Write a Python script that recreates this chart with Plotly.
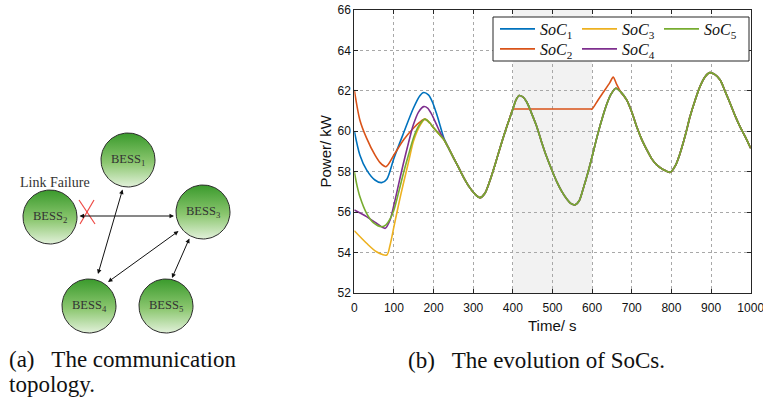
import numpy as np
import plotly.graph_objects as go

# ---------------- data ----------------
common_t = [178, 190, 200, 212, 225, 237, 250, 262, 275, 290, 305, 317, 330, 342, 355, 368, 380, 392, 400, 408,
            416, 425, 435, 447, 460, 472, 485, 498, 511, 524, 536, 547, 557, 567, 578, 590, 600, 612, 624, 637,
            648, 660, 672, 687, 700, 712, 725, 738, 750, 763, 780, 797, 810, 822, 835, 847, 860, 872, 885, 897,
            910, 923, 935, 948, 960, 973, 987, 1000]
common_v = [60.60, 60.42, 60.17, 59.90, 59.62, 59.20, 58.70, 58.25, 57.75, 57.25, 56.88, 56.72, 56.95, 57.55, 58.35,
            59.20, 59.95, 60.65, 61.10, 61.55, 61.77, 61.70, 61.45, 60.90, 60.25, 59.50, 58.75, 58.10, 57.50, 57.00,
            56.65, 56.42, 56.36, 56.55, 57.20, 58.00, 58.75, 59.70, 60.55, 61.35, 61.85, 62.13, 61.95, 61.55, 60.95,
            60.25, 59.60, 59.08, 58.65, 58.34, 58.10, 57.97, 58.30, 58.92, 59.80, 60.73, 61.55, 62.21, 62.70, 62.90,
            62.80, 62.54, 62.00, 61.39, 60.80, 60.23, 59.70, 59.16]

soc1_t = [0, 14, 31, 52, 69, 82, 100, 124, 149, 165, 175, 187, 197, 207, 217, 225]
soc1_v = [60.02, 58.83, 58.09, 57.59, 57.46, 57.63, 58.67, 59.90, 61.14, 61.75, 61.92, 61.80, 61.45, 60.90, 60.25, 59.72]

soc2_t = [0, 14, 31, 52, 65, 80, 100, 124, 149, 165]
soc2_v = [62.05, 60.56, 59.66, 58.83, 58.45, 58.25, 58.83, 59.57, 60.15, 60.45]
soc2_flat_t = [403, 500, 597, 600]
soc2_flat_v = [61.10, 61.10, 61.10, 61.10]
soc2_bump_t = [615, 630, 645, 653, 662]
soc2_bump_v = [61.55, 61.98, 62.42, 62.68, 62.32]

soc3_t = [0, 31, 56, 82, 90, 100, 112, 124, 137, 149, 162]
soc3_v = [55.08, 54.46, 54.04, 53.88, 54.35, 55.28, 56.40, 57.43, 58.50, 59.49, 60.15]

soc4_t = [0, 31, 56, 78, 90, 100, 112, 124, 137, 149, 162, 175, 185, 195, 207, 217, 225]
soc4_v = [56.11, 55.78, 55.45, 55.20, 55.60, 56.36, 57.40, 58.42, 59.45, 60.32, 60.95, 61.22, 61.15, 60.85, 60.35,
          59.92, 59.65]

soc5_t = [0, 7, 14, 31, 48, 69, 80, 90, 100, 112, 124, 137, 149, 162]
soc5_v = [58.00, 57.30, 56.77, 55.94, 55.48, 55.28, 55.37, 55.65, 56.11, 57.00, 57.93, 58.85, 59.66, 60.25]

series_names = ["<i>SoC</i><sub>1</sub>", "<i>SoC</i><sub>2</sub>", "<i>SoC</i><sub>3</sub>",
                "<i>SoC</i><sub>4</sub>", "<i>SoC</i><sub>5</sub>"]
legend_row = ["legend", "legend2", "legend", "legend2", "legend"]
legend_rank = [1, 1, 2, 2, 3]
colors = ["#0072BD", "#D95319", "#EDB120", "#7E2F8E", "#77AC30"]

x_ticks = list(range(0, 1001, 100))
y_ticks = list(range(52, 67, 2))

node_labels = ["BESS<sub>1</sub>", "BESS<sub>2</sub>", "BESS<sub>3</sub>", "BESS<sub>4</sub>", "BESS<sub>5</sub>"]


def common_part(lo, hi=1e9):
    ts = [t for t in common_t if lo < t <= hi]
    vs = [v for t, v in zip(common_t, common_v) if lo < t <= hi]
    return ts, vs


def join(*parts):
    ts, vs = [], []
    for a, b in parts:
        ts += list(a)
        vs += list(b)
    return ts, vs


s1 = join((soc1_t, soc1_v), common_part(soc1_t[-1]))
s2 = join((soc2_t, soc2_v), common_part(soc2_t[-1], 400), (soc2_flat_t, soc2_flat_v),
          (soc2_bump_t, soc2_bump_v), common_part(soc2_bump_t[-1]))
s3 = join((soc3_t, soc3_v), common_part(soc3_t[-1]))
s4 = join((soc4_t, soc4_v), common_part(soc4_t[-1]))
s5 = join((soc5_t, soc5_v), common_part(soc5_t[-1]))
series = [s1, s2, s3, s4, s5]

W, H = 763, 401
fig = go.Figure()

# ---------------- main chart ----------------
for (ts, vs), name, col, lg, rk in zip(series, series_names, colors, legend_row, legend_rank):
    fig.add_trace(go.Scatter(x=ts, y=vs, mode="lines", name=name, legend=lg, legendrank=rk,
                             line=dict(color=col, width=1.6, shape="spline", smoothing=0.8),
                             xaxis="x", yaxis="y"))

fig.add_shape(type="rect", xref="x", yref="y", x0=400, x1=600, y0=52, y1=66,
              fillcolor="#f2f2f2", line=dict(width=0), layer="below")

plot_l, plot_r, plot_t, plot_b = 354.3, 750.7, 10, 293

axis_common = dict(showline=True, linecolor="#262626", linewidth=1, mirror="ticks",
                   ticks="inside", ticklen=4, tickcolor="#262626",
                   showgrid=True, gridcolor="#a8a8a8", griddash="dot", gridwidth=1,
                   zeroline=False, ticklabeloverflow="allow",
                   tickfont=dict(family="Liberation Sans, Arial", size=12, color="#111"))

fig.update_layout(
    xaxis=dict(domain=[plot_l / W, plot_r / W], range=[0, 1000], tickvals=x_ticks, anchor="y",
               ticklabelstandoff=4, **axis_common),
    yaxis=dict(domain=[1 - plot_b / H, 1 - plot_t / H], range=[52, 66], tickvals=y_ticks, anchor="x", **axis_common),
)

# legend box (two legends stacked inside one frame)
fig.add_shape(type="rect", xref="paper", yref="paper", x0=493 / W, x1=749 / W, y0=1 - 61 / H, y1=1 - 17 / H,
              fillcolor="white", line=dict(color="#262626", width=1), layer="above")

# ---------------- topology diagram (pixel-coordinate axes) ----------------
DW = 330
fig.update_layout(
    xaxis2=dict(domain=[0, DW / W], range=[0, DW], visible=False, anchor="y2", fixedrange=True),
    yaxis2=dict(domain=[0, 1], range=[0, H], visible=False, anchor="x2", fixedrange=True),
)

node_px = [(128, 160), (50, 217), (203, 212), (89, 306), (166, 306)]
node_r = 27
theta = np.linspace(0, 2 * np.pi, 90)
for (cx, cy), lab in zip(node_px, node_labels):
    fig.add_trace(go.Scatter(
        x=cx + node_r * np.cos(theta), y=(H - cy) + node_r * np.sin(theta),
        mode="lines", fill="toself", showlegend=False, hoverinfo="skip",
        line=dict(color="#2b2b2b", width=1),
        fillgradient=dict(type="vertical", colorscale=[[0, "#e2f1da"], [0.45, "#8cc770"], [1, "#3a9a2c"]]),
        xaxis="x2", yaxis="y2"))
    fig.add_annotation(x=cx, y=H - cy, xref="x2", yref="y2", text=lab, showarrow=False,
                       font=dict(family="Liberation Serif, Times New Roman", size=12.5, color="#333"))

arrows = [((78, 216), (174, 216)), ((123, 188), (98, 274)), ((180, 230), (108, 282)), ((190, 237), (172, 278))]
for (x0, y0), (x1, y1) in arrows:
    fig.add_annotation(x=x1, y=H - y1, ax=x0, ay=H - y0, xref="x2", yref="y2", axref="x2", ayref="y2",
                       text="", showarrow=True, arrowhead=2, startarrowhead=2, arrowside="end+start",
                       arrowsize=0.9, startarrowsize=0.9, arrowwidth=1, arrowcolor="#111", standoff=0, startstandoff=0)

for (x0, y0, x1, y1) in [(79, 200, 95, 224), (80, 224, 94, 200)]:
    fig.add_shape(type="line", xref="x2", yref="y2", x0=x0, y0=H - y0, x1=x1, y1=H - y1,
                  line=dict(color="#ee4a45", width=1.2))

fig.add_annotation(x=55, y=H - 182, xref="x2", yref="y2", text="Link Failure", showarrow=False,
                   font=dict(family="Liberation Serif, Times New Roman", size=14, color="#333"))

# ---------------- titles & captions ----------------
sans = "Liberation Sans, Arial"
fig.add_annotation(x=(plot_l + plot_r) / 2 / W, y=1 - 325 / H, xref="paper", yref="paper", text="Time/ s",
                   xanchor="center", yanchor="middle",
                   showarrow=False, font=dict(family=sans, size=15, color="#111"))
fig.add_annotation(x=325 / W, y=1 - 151.5 / H, xref="paper", yref="paper", text="Power/ kW", textangle=-90,
                   xanchor="center", yanchor="middle",
                   showarrow=False, font=dict(family=sans, size=15, color="#111"))

serif = "Liberation Serif, Times New Roman"
fig.add_annotation(x=7 / W, y=1 - 359 / H, xref="paper", yref="paper", xanchor="left", yanchor="middle",
                   text="(a)   The communication", showarrow=False, font=dict(family=serif, size=23, color="#111"))
fig.add_annotation(x=7 / W, y=1 - 384 / H, xref="paper", yref="paper", xanchor="left", yanchor="middle",
                   text="topology.", showarrow=False, font=dict(family=serif, size=23, color="#111"))
fig.add_annotation(x=406 / W, y=1 - 360 / H, xref="paper", yref="paper", xanchor="left", yanchor="middle",
                   text="(b)   The evolution of SoCs.", showarrow=False, font=dict(family=serif, size=23, color="#111"))

leg_common = dict(xanchor="left", yanchor="top", orientation="h", borderwidth=0, bgcolor="rgba(0,0,0,0)",
                  font=dict(family=serif, size=16, color="#111"),
                  entrywidth=32, entrywidthmode="pixels", itemwidth=35, tracegroupgap=0)

fig.update_layout(
    width=W, height=H, margin=dict(l=0, r=0, t=0, b=0, autoexpand=False),
    paper_bgcolor="white", plot_bgcolor="white",
    legend=dict(x=495 / W, y=1 - 12 / H, **leg_common),
    legend2=dict(x=495 / W, y=1 - 32 / H, **leg_common),
)

fig.write_html("out.html")
